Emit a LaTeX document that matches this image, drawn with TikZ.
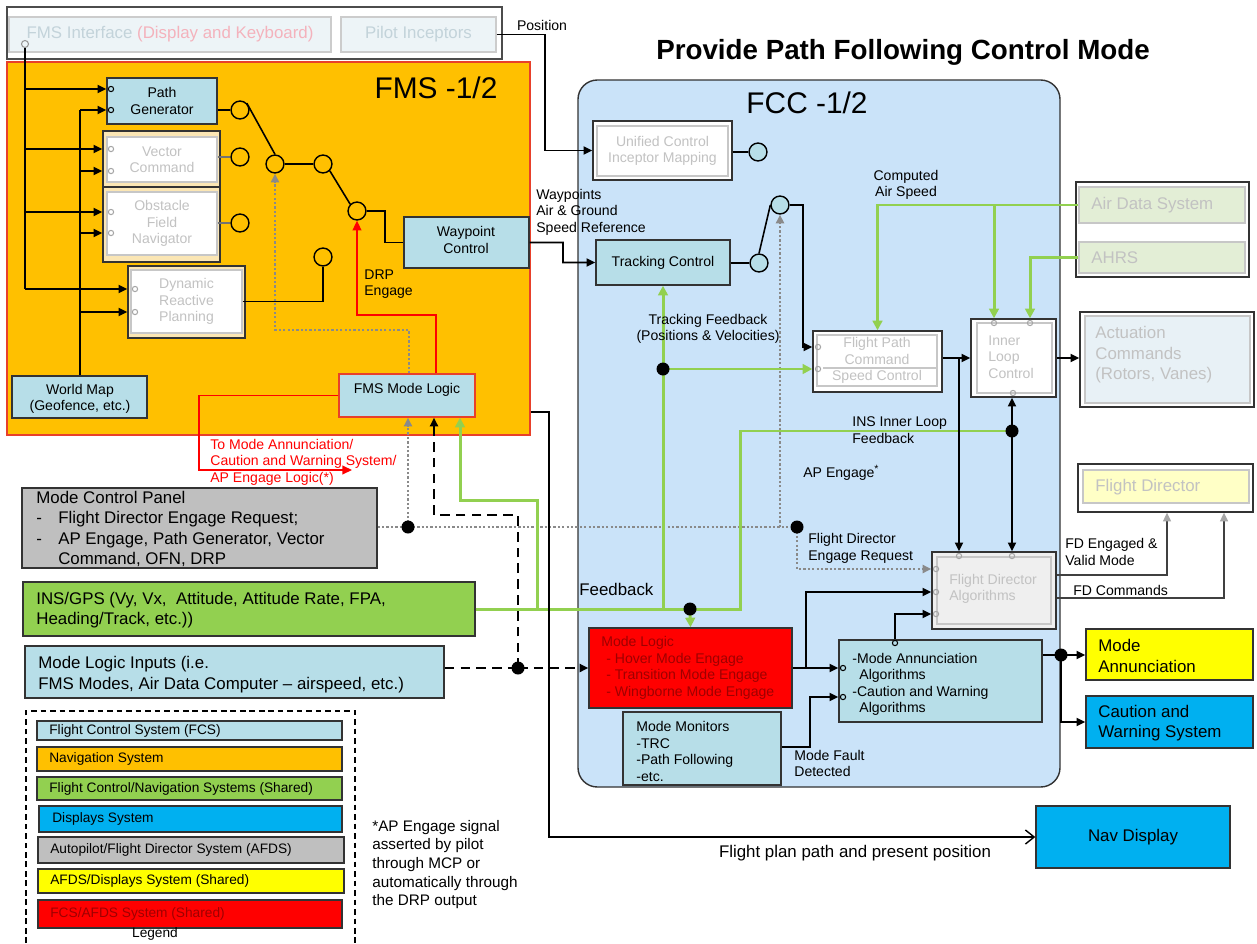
\documentclass[tikz,border=0pt]{standalone}
\usepackage{fontspec}
\setmainfont{Liberation Sans}
\usetikzlibrary{arrows.meta,fit,calc}

\definecolor{navorange}{HTML}{FFC000}
\definecolor{fcsteal}{HTML}{B7DEE8}
\definecolor{sharedgreen}{HTML}{92D050}
\definecolor{dispblue}{HTML}{00B0F0}
\definecolor{afdsgray}{HTML}{BFBFBF}
\definecolor{afdsyellow}{HTML}{FFFF00}
\definecolor{sharedred}{HTML}{FF0000}
\definecolor{fccblue}{HTML}{CAE3F9}
\definecolor{cream}{HTML}{FBE6B4}
\definecolor{fadetext}{HTML}{C2C2C2}
\definecolor{darkred}{HTML}{9E0000}
\definecolor{paleteal}{HTML}{EDF4F7}
\definecolor{palegreen}{HTML}{E3EED6}
\definecolor{paleblue}{HTML}{E8F1F6}
\definecolor{paleyellow}{HTML}{FFFFC6}
\definecolor{palegray}{HTML}{EFEFEF}
\definecolor{pinkfade}{HTML}{F4B2BC}
\definecolor{bluefade}{HTML}{C3D3DA}
\definecolor{dotgray}{HTML}{8A8A8A}
\definecolor{fmsedge}{HTML}{E8402A}

\newcommand\fsmall{\fontsize{8}{9.4}\selectfont}
\newcommand\fbig{\fontsize{9.6}{11.7}\selectfont}
\newcommand\flegend{\fontsize{7.8}{9}\selectfont}
\newcommand\fnote{\fontsize{8.7}{10.6}\selectfont}
\newcommand\fhead{\fontsize{17}{20}\selectfont}

\tikzset{
  every node/.style={font=\fsmall},
  sysbox/.style={draw=black!80, line width=0.8pt, inner sep=0pt},
  fcsbox/.style={sysbox, fill=fcsteal},
  outerframe/.style={sysbox, fill=white},
  fadebox/.style={draw=black!22, line width=0.6pt, inner sep=0pt},
  ctext/.style={inner sep=0pt, align=center},
  fadetxt/.style={ctext, text=fadetext},
  lbl/.style={inner sep=0pt, align=left, anchor=west},
  conn/.style={line width=0.9pt, draw=black},
  endtip/.style={-{Triangle[length=5pt,width=4.6pt]}},
  arr/.style={conn, endtip},
  grn/.style={line width=1.7pt, draw=sharedgreen},
  grnarr/.style={grn, -{Triangle[length=5.5pt,width=5.5pt]}},
  dotl/.style={line width=1.3pt, draw=dotgray, dash pattern=on 1.3pt off 1.2pt},
  dotarr/.style={dotl, -{Triangle[length=5pt,width=4.6pt]}},
  dashl/.style={line width=1.4pt, draw=black, dash pattern=on 5.5pt off 3.5pt},
  dasharr/.style={dashl, endtip},
  redarr/.style={line width=0.8pt, draw=red, -{Triangle[length=5.5pt,width=5pt]}},
  fdline/.style={line width=0.7pt, draw=black!75, -{Triangle[length=5pt,width=4.6pt,color=black!35]}},
  contact/.style={circle, draw=black, line width=0.8pt, minimum size=10.2pt, inner sep=0pt},
  portring/.style={draw=black, line width=0.6pt},
  fadering/.style={draw=black!35, line width=0.6pt},
  legendbox/.style={sysbox},
}

\begin{document}
\begin{tikzpicture}[x=0.02cm, y=-0.02cm]
\useasboundingbox (0,0) rectangle (1257,943);
\fill[white] (0,0) rectangle (1257,943);

% heading
\node[font=\bfseries\fontsize{15.8}{19}\selectfont] (title) at (903,52) {Provide Path Following Control Mode};

% ---------------- pilot interfaces ----------------
\node[sysbox, draw=black!70, fill=white, fit={(7,7)(502,59)}] (hmi) {};
\node[sysbox, draw=black!20, fill=paleteal, fit={(9,17)(331,52)}] (fmsif) {};
\node[ctext, font=\fbig] (fmsift) at (fmsif) {\textcolor{bluefade}{FMS Interface} \textcolor{pinkfade}{(Display and Keyboard)}};
\node[sysbox, draw=black!20, fill=paleteal, fit={(341,17)(496,52)}] (pinc) {};
\node[ctext, font=\fbig, text=bluefade] (pinct) at (pinc) {Pilot Inceptors};

% ---------------- FMS ----------------
\node[sysbox, draw=fmsedge, line width=0.6pt, fill=navorange, fit={(7,62)(530,435)}] (fms) {};
\node[font=\fhead] (fmshead) at (436,88) {FMS -1/2};

\node[fcsbox, fit={(107,78)(217,124)}] (pg) {};
\node[ctext] (pgt) at (pg) {Path\\Generator};
\node[sysbox, fill=cream, fit={(103,131)(220,187)}] (vcf) {};
\node[fadebox, fill=white, fit={(107,137)(217,182)}] (vc) {};
\node[fadetxt] (vct) at (vc) {Vector\\Command};
\node[sysbox, fill=cream, fit={(103,187)(220,262)}] (obf) {};
\node[fadebox, fill=white, fit={(107,192)(217,255)}] (ob) {};
\node[fadetxt] (obt) at (ob) {Obstacle\\Field\\Navigator};
\node[sysbox, fill=cream, fit={(128,266)(245,338)}] (drpf) {};
\node[fadebox, fill=white, fit={(131,270)(242,333)}] (drp) {};
\node[fadetxt] (drpt) at (drp) {Dynamic\\Reactive\\Planning};
\node[fcsbox, fit={(12,376)(147,418)}] (wm) {};
\node[ctext] (wmt) at (80,399) {World Map\\(Geofence, etc.)};
\node[fcsbox, fit={(404,217)(529,268)}] (wpc) {};
\node[ctext] (wpct) at (466,240) {Waypoint\\Control};
\node[fcsbox, draw=fmsedge, fit={(339,374)(475,417)}] (fml) {};
\node[ctext] (fmlt) at (407,390) {FMS Mode Logic};

\node[contact] (pgc) at (240,110) {};
\node[contact] (vcc) at (240,157) {};
\node[contact] (obc) at (240,223) {};
\node[contact] (drpc) at (323,257) {};
\node[contact] (sw1) at (275,164) {};
\node[contact] (sw2) at (323,164) {};
\node[contact] (sw3) at (357,211) {};
\node[circle, draw=black!40, line width=0.6pt, minimum size=4pt, inner sep=0pt] (ifport) at (25,44) {};

% ---------------- FCC ----------------
\node[sysbox, rounded corners=11pt, fill=fccblue, fit={(578,80)(1060,787)}] (fcc) {};
\node[font=\fhead] (fcchead) at (807,103) {FCC -1/2};

\node[outerframe, fit={(593,121)(732,180)}] (ucim) {};
\node[fadebox, fill=white, fit={(597,126)(728,176)}] (ucimin) {};
\node[fadetxt] (ucimt) at (ucimin) {Unified Control\\Inceptor Mapping};
\node[contact, fill=fcsteal] (ucimc) at (758,152) {};
\node[fcsbox, fit={(596,240)(730,285)}] (tc) {};
\node[ctext] (tct) at (tc) {Tracking Control};
\node[contact, fill=fcsteal] (tcc) at (759,263) {};
\node[contact, fill=fcsteal] (swc) at (780,205) {};

\node[outerframe, fit={(813,331)(942,392)}] (fpc) {};
\node[fadebox, fill=white, fit={(817,335)(937,386)}] (fpcin) {};
\node[fadetxt] (fpct) at (877,351) {Flight Path\\Command};
\node[fadetxt] (spdt) at (877,377) {Speed Control};
\draw[draw=black!22, line width=0.6pt] (823,368) -- (fpcin.east |- 0,368);

\node[outerframe, fit={(971,319)(1056,397)}] (ilc) {};
\node[fadebox, fill=white, fit={(977,323)(1052,393)}] (ilcin) {};
\node[lbl, text=fadetext] (ilct) at (988,357) {Inner\\Loop\\Control};

\node[sysbox, fill=palegray, fit={(932,552)(1056,629)}] (fda) {};
\node[fadebox, fill=palegray, fit={(937,557)(1051,624)}] (fdain) {};
\node[lbl, text=fadetext] (fdat) at (949,589) {Flight Director\\Algorithms};

\node[sysbox, fill=sharedred, fit={(589,628)(792,708)}] (ml) {};
\node[lbl, text=darkred] (mlt) at (601,668) {Mode Logic\\\hspace{2.8pt}- Hover Mode Engage\\\hspace{2.8pt}- Transition Mode Engage\\\hspace{2.8pt}- Wingborne Mode Engage};
\node[fcsbox, fit={(623,712)(781,785)}] (mm) {};
\node[lbl] (mmt) at (636,751.5) {Mode Monitors\\-TRC\\-Path Following\\-etc.};
\node[fcsbox, fit={(839,640)(1042,722)}] (maa) {};
\node[lbl] (maat) at (852,684.5) {-Mode Annunciation\\\hspace{4pt}Algorithms\\-Caution and Warning\\\hspace{4pt}Algorithms};

% ---------------- external systems ----------------
\node[outerframe, fit={(1076,182)(1249,277)}] (sens) {};
\node[fadebox, fill=palegreen, fit={(1079,187)(1245,223)}] (ads) {};
\node[lbl, font=\fbig, text=fadetext] (adst) at (1091,205) {Air Data System};
\node[fadebox, fill=palegreen, fit={(1079,242)(1245,273)}] (ahrs) {};
\node[lbl, font=\fbig, text=fadetext] (ahrst) at (1091,258) {AHRS};
\node[outerframe, fit={(1080,312)(1254,407)}] (act) {};
\node[fadebox, fill=paleblue, fit={(1085,316)(1250,403)}] (actin) {};
\node[lbl, font=\fbig, text=fadetext] (actt) at (1095,355) {Actuation\\Commands\\(Rotors, Vanes)};
\node[outerframe, fit={(1078,464)(1253,512)}] (fd) {};
\node[fadebox, fill=paleyellow, fit={(1083,470)(1249,503)}] (fdin) {};
\node[lbl, font=\fbig, text=fadetext] (fdt) at (1095,487) {Flight Director};
\node[sysbox, fill=afdsyellow, fit={(1086,629)(1253,680)}] (ma) {};
\node[lbl, font=\fbig] (mat) at (1098,656) {Mode\\Annunciation};
\node[sysbox, fill=dispblue, fit={(1086,696)(1253,748)}] (cws) {};
\node[lbl, font=\fbig] (cwst) at (1098,723) {Caution and\\Warning System};
\node[sysbox, fill=dispblue, fit={(1036,806)(1230,868)}] (nav) {};
\node[ctext, font=\fbig] (navt) at (nav) {Nav Display};

% ---------------- input panels ----------------
\node[sysbox, fill=afdsgray, fit={(22,488)(377,568)}] (mcp) {};
\node[lbl, font=\fbig] (mcpt) at (36,529) {Mode Control Panel\\-\hspace{9.3pt}Flight Director Engage Request;\\-\hspace{9.3pt}AP Engage, Path Generator, Vector\\\hspace{12.5pt}Command, OFN, DRP};
\node[sysbox, fill=sharedgreen, fit={(23,582)(475,636)}] (ins) {};
\node[lbl, font=\fbig] (inst) at (36,610) {INS/GPS (Vy, Vx,\ \ Attitude, Attitude Rate, FPA,\\Heading/Track, etc.))};
\node[sysbox, fill=fcsteal, fit={(25,646)(444,698)}] (mli) {};
\node[lbl, font=\fbig] (mlit) at (38,674.5) {Mode Logic Inputs (i.e.\\FMS Modes, Air Data Computer -- airspeed, etc.)};

% junction points
\coordinate (jmcp) at (408,527);
\coordinate (jfdr) at (797,527);
\coordinate (jdash) at (518,668);
\coordinate (jtf) at (663,369);
\coordinate (jml) at (690,609);
\coordinate (jins) at (1012,431);
\coordinate (jann) at (1061,655);
\coordinate (toann) at (352,470);

% ---------------- FMS connectors ----------------
\draw[conn] (ifport.south) -- (25,289);
\draw[conn] (wm.north -| 80,0) -- (80,110);
\draw[arr] (25,89) -- (25,89 -| pg.west);
\draw[arr] (80,110) -- (80,110 -| pg.west);
\draw[arr] (25,149) -- (25,149 -| vcf.west);
\draw[arr] (80,171) -- (80,171 -| vcf.west);
\draw[arr] (25,212) -- (25,212 -| obf.west);
\draw[arr] (80,233) -- (80,233 -| obf.west);
\draw[arr] (25,289) -- (25,289 -| drpf.west);
\draw[arr] (80,312) -- (80,312 -| drpf.west);

\draw[conn] (pg.east |- pgc) -- (pgc.west);
\draw[conn, draw=black!55] (vc.east |- vcc) -- (vcc.west);
\draw[conn, draw=black!55] (ob.east |- obc) -- (obc.west);
\draw[conn] (drp.east) -| (drpc.south);
\draw[conn] (pgc.north east) -- (sw1.north);
\draw[conn] (sw1.east) -- (sw2.west);
\draw[conn] (sw2.south east) -- (sw3.north west);
\draw[conn] (sw3.east) -- (385,211) |- (wpc.west);
\draw[dotarr] (fml.north -| 409,0) -- (409,330) -| (sw1.south);
\draw[redarr] (fml.north -| 436,0) -- (436,315) -| (sw3.south);
\draw[redarr] (fml.west) -| (199,470) -- (toann);

\draw[arr] (pinc.east) -- (pinc.east -| 545,0) |- (ucim.west);
\node (poslbl) at (542,25) {Position};
\draw[arr] (wpc.east) -- (563,242.5) |- (tc.west);

% ---------------- FCC connectors ----------------
\draw[conn] (ucim.east |- ucimc) -- (ucimc.west);
\draw[conn] (tc.east |- tcc) -- (tcc.west);
\draw[conn] (tcc.north) -- (swc.west);
\draw[arr] (swc.east) -- (803,205) |- (fpc.west |- 0,347);

\draw[dotl] (mcp.east |- jmcp) -- (jfdr);
\draw[dotarr] (jmcp) -- (jmcp |- fml.south);
\draw[dotarr] (swc |- jfdr) -- (swc.south);
\draw[dotarr] (jfdr) |- (fda.west |- 0,569);

\draw[dashl] (mli.east |- jdash) -- (jdash);
\draw[dasharr] (jdash) -- (ml.west);
\draw[dasharr] (jdash) -- (518,515) -| (fml.south -| 434,0);

\draw[grn] (ins.east) -- (740,609) |- (jins);
\draw[grnarr] (tc.south |- ins.east) -- (tc.south);
\draw[grnarr] (jtf) -- (jtf -| fpc.west);
\draw[grnarr] (jml) -- (ml.north);
\draw[grnarr] (537,609) |- (460,500) -- (fml.south -| 460,0);
\draw[grnarr] (ads.west) -| (fpc.north);
\draw[grnarr] (994,205) -- (ilc.north -| 994,0);
\draw[grnarr] (ahrs.west) -| (ilc.north -| 1030,0);

\draw[arr] (fpc.east |- ilc.west) -- (ilc.west);
\draw[arr] (959,358) -- (fda.north -| 959,0);
\draw[arr] (ilc.east) -- (act.west |- ilc.east);
\draw[arr] (jins) -- (ilc.south -| jins);
\draw[arr] (jins) -- (fda.north -| jins);

\draw[fdline] (fda.east |- 0,575) -| (fd.south -| 1167,0);
\draw[fdline] (fda.east |- 0,598) -| (fd.south -| 1224,0);

\draw[arr] (ml.east) -- (ml.east -| maa.west);
\draw[arr] (806,668) |- (fda.west |- 0,592);
\draw[arr] (mm.east |- 0,747) -| (810,697) -- (maa.west |- 0,697);
\draw[arr] (maa.north -| 895,0) |- (fda.west |- 0,614);
\draw[conn] (maa.east |- jann) -- (jann);
\draw[arr] (jann) -- (jann -| ma.west);
\draw[arr] (jann) |- (cws.west);

\draw[line width=0.8pt, -{Straight Barb[length=5pt,width=8pt]}] (fms.east |- 0,412) -- (549,412) |- (nav.west);
\node[font=\fbig] (fpp) at (855,853) {Flight plan path and present position};

% ---------------- signal labels ----------------
\node[lbl] (wplbl) at (536,212) {Waypoints\\Air \& Ground\\Speed Reference};
\node[ctext] (caslbl) at (906,185) {Computed\\Air Speed};
\node[ctext] (tflbl) at (708,329) {Tracking Feedback\\(Positions \& Velocities)};
\node[lbl] (inslbl) at (852,430) {INS Inner Loop\\Feedback};
\node[lbl] (aplbl) at (803,473) {AP Engage\textsuperscript{*}};
\node[lbl] (fdrlbl) at (808,548.5) {Flight Director\\Engage Request};
\node[lbl, font=\fbig] (fblbl) at (579,589) {Feedback};
\node[lbl] (mflbl) at (794,763.5) {Mode Fault\\Detected};
\node[lbl] (fdelbl) at (1065,552) {FD Engaged \&\\Valid Mode};
\node[lbl] (fdclbl) at (1073,590) {FD Commands};
\node[lbl] (drplbl) at (364,284) {DRP\\Engage};
\node[lbl, text=red] (annlbl) at (210,462) {To Mode Annunciation/\\Caution and Warning System/\\AP Engage Logic(*)};

% ---------------- legend ----------------
\draw[line width=0.9pt, dash pattern=on 3.2pt off 2.2pt] (26,943) -- (26,711) -- (355,711) -- (355,943);
\node[legendbox, fill=fcsteal, fit={(37,721)(342,740)}] (lg1) {};
\node[lbl, font=\flegend] (lg1t) at (49,730.5) {Flight Control System (FCS)};
\node[legendbox, fill=navorange, fit={(37,747)(342,771)}] (lg2) {};
\node[lbl, font=\flegend] (lg2t) at (49,759) {Navigation System};
\node[legendbox, fill=sharedgreen, fit={(37,777)(342,800)}] (lg3) {};
\node[lbl, font=\flegend] (lg3t) at (49,788.5) {Flight Control/Navigation Systems (Shared)};
\node[legendbox, fill=dispblue, fit={(39,806)(342,832)}] (lg4) {};
\node[lbl, font=\flegend] (lg4t) at (52,819) {Displays System};
\node[legendbox, fill=afdsgray, fit={(38,837)(344,863)}] (lg5) {};
\node[lbl, font=\flegend] (lg5t) at (50,850) {Autopilot/Flight Director System (AFDS)};
\node[legendbox, fill=afdsyellow, fit={(38,869)(344,893)}] (lg6) {};
\node[lbl, font=\flegend] (lg6t) at (50,881) {AFDS/Displays System (Shared)};
\node[legendbox, fill=sharedred, fit={(38,900)(342,928)}] (lg7) {};
\node[lbl, font=\flegend, text=darkred] (lg7t) at (50,914) {FCS/AFDS System (Shared)};
\node[font=\flegend] (lgtitle) at (155,934) {Legend};
\node[lbl, font=\fnote] (apnote) at (372,864.5) {*AP Engage signal\\asserted by pilot\\through MCP or\\automatically through\\the DRP output};

% ---------------- ports and junction dots ----------------
\foreach \x/\y in {111/89, 111/110, 843/668, 843/697, 895/643}
  \draw[portring] (\x,\y) circle[radius=1.5pt];
\foreach \x/\y in {111/149,111/171,111/212,111/233,135/289,135/312,818/347,818/369,994/323,1030/323,1013/393,959/556,1012/556,936/569,936/592,936/614}
  \draw[fadering] (\x,\y) circle[radius=1.5pt];
\foreach \j in {jmcp,jfdr,jdash,jtf,jml,jins,jann}
  \fill (\j) circle[radius=3.7pt];
\end{tikzpicture}
\end{document}
